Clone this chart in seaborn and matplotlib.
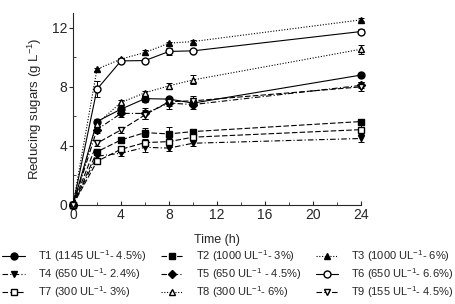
import numpy as np
import pandas as pd
import matplotlib
matplotlib.use("Agg")
import matplotlib.pyplot as plt
import seaborn as sns
from matplotlib.ticker import MultipleLocator

time_h = [0, 2, 4, 6, 8, 10, 24]

series_names = ["T1", "T2", "T3", "T4", "T5", "T6", "T7", "T8", "T9"]
legend_labels = [
    "T1 (1145 UL$^{-1}$- 4.5%)",
    "T2 (1000 UL$^{-1}$- 3%)",
    "T3 (1000 UL$^{-1}$- 6%)",
    "T4 (650 UL$^{-1}$- 2.4%)",
    "T5 (650 UL$^{-1}$ - 4.5%)",
    "T6 (650 UL$^{-1}$- 6.6%)",
    "T7 (300 UL$^{-1}$- 3%)",
    "T8 (300 UL$^{-1}$- 6%)",
    "T9 (155 UL$^{-1}$- 4.5%)",
]

t1 = [0, 5.65, 6.49, 7.20, 7.17, 6.90, 8.80]
t2 = [0, 3.60, 4.40, 4.90, 4.81, 4.97, 5.65]
t3 = [0, 9.20, 9.88, 10.33, 10.96, 11.07, 12.54]
t4 = [0, 3.30, 3.50, 3.90, 3.85, 4.18, 4.50]
t5 = [0, 5.10, 6.20, 6.20, 6.90, 6.80, 8.10]
t6 = [0, 7.84, 9.76, 9.78, 10.40, 10.44, 11.75]
t7 = [0, 2.95, 3.77, 4.22, 4.29, 4.59, 5.10]
t8 = [0, 5.50, 6.94, 7.60, 8.07, 8.47, 10.55]
t9 = [0, 4.18, 5.08, 6.10, 7.00, 7.05, 8.00]

e1 = [0, 0.15, 0.20, 0.20, 0.15, 0.20, 0.15]
e2 = [0, 0.20, 0.20, 0.30, 0.50, 0.20, 0.20]
e3 = [0, 0.10, 0.10, 0.15, 0.10, 0.10, 0.10]
e4 = [0, 0.20, 0.20, 0.30, 0.20, 0.20, 0.25]
e5 = [0, 0.20, 0.25, 0.40, 0.40, 0.30, 0.20]
e6 = [0, 0.55, 0.10, 0.10, 0.25, 0.10, 0.20]
e7 = [0, 0.20, 0.20, 0.25, 0.25, 0.20, 0.30]
e8 = [0, 0.20, 0.15, 0.15, 0.20, 0.30, 0.30]
e9 = [0, 0.20, 0.20, 0.30, 0.30, 0.30, 0.30]

values = [t1, t2, t3, t4, t5, t6, t7, t8, t9]
errors = [e1, e2, e3, e4, e5, e6, e7, e8, e9]

markers = ["o", "s", "^", "v", "D", "o", "s", "^", "v"]
filled = [True, True, True, True, True, False, False, False, False]
linestyles = ["-", (0, (5, 2)), (0, (1, 1.5)), (0, (5, 2, 1, 2)), (0, (5, 2, 1, 2)),
              "-", (0, (5, 2)), (0, (1, 1.5)), (0, (5, 2))]

sns.set_style("ticks")
plt.rcParams["font.family"] = ["Liberation Sans", "DejaVu Sans"]
plt.rcParams["mathtext.fontset"] = "custom"
plt.rcParams["mathtext.rm"] = "Liberation Sans"
plt.rcParams["mathtext.default"] = "rm"

fig = plt.figure(figsize=(4.56, 3.04), dpi=100)
ax = fig.add_axes([0.16, 0.326, 0.632, 0.631])

for i, name in enumerate(series_names):
    msize = 3.8 if markers[i] == "D" else 5
    sns.lineplot(x=time_h, y=values[i], ax=ax, color="black", linewidth=0.8,
                 linestyle=linestyles[i], marker=markers[i], markersize=msize,
                 markerfacecolor="black" if filled[i] else "white",
                 markeredgecolor="black", markeredgewidth=1.0,
                 label=legend_labels[i], clip_on=False, zorder=3)
    ax.errorbar(time_h, values[i], yerr=errors[i], fmt="none", ecolor="black",
                elinewidth=0.7, capsize=2.5, capthick=0.7, clip_on=False, zorder=2)

ax.set_xlim(0, 24)
ax.set_ylim(0, 13)
ax.xaxis.set_major_locator(MultipleLocator(4))
ax.xaxis.set_minor_locator(MultipleLocator(2))
ax.yaxis.set_major_locator(MultipleLocator(4))
ax.yaxis.set_minor_locator(MultipleLocator(2))
ax.tick_params(axis="x", which="major", direction="in", length=3, width=0.8, labelsize=10, pad=2)
ax.tick_params(axis="x", which="minor", direction="in", length=2, width=0.6)
ax.tick_params(axis="y", which="major", direction="out", length=3, width=0.8, labelsize=10, pad=1)
ax.tick_params(axis="y", which="minor", direction="in", length=2, width=0.6)
for s in ["left", "bottom"]:
    ax.spines[s].set_linewidth(0.8)
sns.despine(ax=ax)

ax.set_xlabel("Time (h)", fontsize=9, labelpad=9)
ax.set_ylabel("Reducing sugars (g L$^{-1}$)", fontsize=9.5, labelpad=6)

handles, labels = ax.get_legend_handles_labels()
ax.get_legend().remove()
order = [0, 3, 6, 1, 4, 7, 2, 5, 8]
fig.legend([handles[k] for k in order], [labels[k] for k in order],
           loc="upper center", bbox_to_anchor=(0.5, 0.185), ncol=3, frameon=False,
           fontsize=8, handlelength=2.0, handletextpad=1.2, columnspacing=1.3,
           labelspacing=0.2, borderaxespad=0, borderpad=0)

fig.savefig("out.png", dpi=100, facecolor="white")
